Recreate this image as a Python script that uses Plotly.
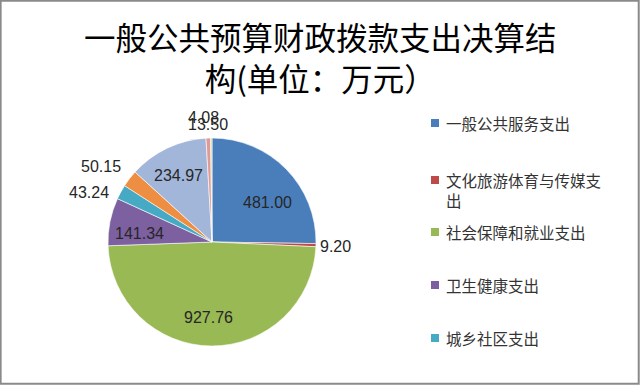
import math
import plotly.graph_objects as go

# ---- data ----
categories = ["一般公共服务支出", "文化旅游体育与传媒支出", "社会保障和就业支出", "卫生健康支出",
              "城乡社区支出", "农林水支出", "住房保障支出", "交通运输支出", "灾害防治及应急管理支出"]
values = [481.00, 9.20, 927.76, 141.34, 43.24, 50.15, 234.97, 13.50, 4.08]
title_lines = ["一般公共预算财政拨款支出决算结", "构(单位：万元）"]
legend_count = 5

# ---- style ----
colors = ["#4A7EBB", "#BE4B48", "#98B954", "#7D60A0", "#46AAC5", "#EE8E42",
          "#A2B6DA", "#DE9A98", "#C4D89C"]
# label placement per slice: radius factor, angle nudge (deg), anchor
label_r = [0.654, 1.02, 0.731, 0.698, 1.084, 1.119, 0.722, 1.135, 1.204]
label_da = [8.6, 0.9, 2.7, -4.2, -2.4, 2.6, -1.4, 0.1, -3.3]
label_anchor = ["center", "left", "center", "center", "right", "right", "center", "center", "center"]

W, H = 640, 385
cx, cy, r = 212, 242, 104
label_font = dict(family="Liberation Sans, Arial, sans-serif", size=16, color="#262626")

fig = go.Figure()
fig.add_trace(go.Pie(
    labels=categories, values=values, sort=False, direction="clockwise", rotation=0,
    marker=dict(colors=colors, line=dict(color="white", width=0.6)),
    textinfo="none",
    domain=dict(x=[(cx - r) / W, (cx + r) / W], y=[(H - cy - r) / H, (H - cy + r) / H]),
    showlegend=False, hoverinfo="label+value",
))

shapes = [dict(type="rect", xref="paper", yref="paper", x0=0.001, y0=0.003, x1=0.998, y1=0.998,
               line=dict(color="#8a8a8a", width=2))]
annotations = [dict(text="<br>".join(title_lines), xref="paper", yref="paper", x=0.5, y=1 - 57 / H,
                    xanchor="center", yanchor="middle", showarrow=False,
                    font=dict(family="Noto Sans CJK SC", size=31.5, color="#000000"))]

# data labels at slice mid-angles
total = sum(values)
cum = 0.0
for i, v in enumerate(values):
    mid = (cum + v / 2) / total * 360.0
    cum += v
    ang = math.radians(mid + label_da[i])
    rr = r * label_r[i]
    px = cx + rr * math.sin(ang)
    py = cy - rr * math.cos(ang)
    annotations.append(dict(text=f"{v:.2f}", xref="paper", yref="paper", x=px / W, y=1 - py / H,
                            xanchor=label_anchor[i], yanchor="middle", showarrow=False,
                            font=label_font))

# legend (first entries only, as in the reference)
leg_y = [123, 180, 232, 285, 338]
for i in range(legend_count):
    name = categories[i]
    yc = leg_y[i]
    shapes.append(dict(type="rect", xref="paper", yref="paper",
                       x0=431 / W, x1=439 / W, y0=1 - (yc + 4) / H, y1=1 - (yc - 4) / H,
                       fillcolor=colors[i], line=dict(width=0)))
    if len(name) > 10:
        txt = name[:10] + "<br>" + name[10:]
        ymid = yc + 10
    else:
        txt = name
        ymid = yc
    annotations.append(dict(text=txt, xref="paper", yref="paper", x=444 / W, y=1 - ymid / H,
                            xanchor="left", yanchor="middle", align="left", showarrow=False,
                            font=dict(family="Noto Sans CJK SC", size=15.5, color="#333333")))

fig.update_layout(width=W, height=H, margin=dict(l=0, r=0, t=0, b=0),
                  paper_bgcolor="white", plot_bgcolor="white",
                  shapes=shapes, annotations=annotations)
fig.write_html("out.html", config={"displayModeBar": False},
               post_script="document.body.style.margin='0';document.body.style.overflow='hidden';")
